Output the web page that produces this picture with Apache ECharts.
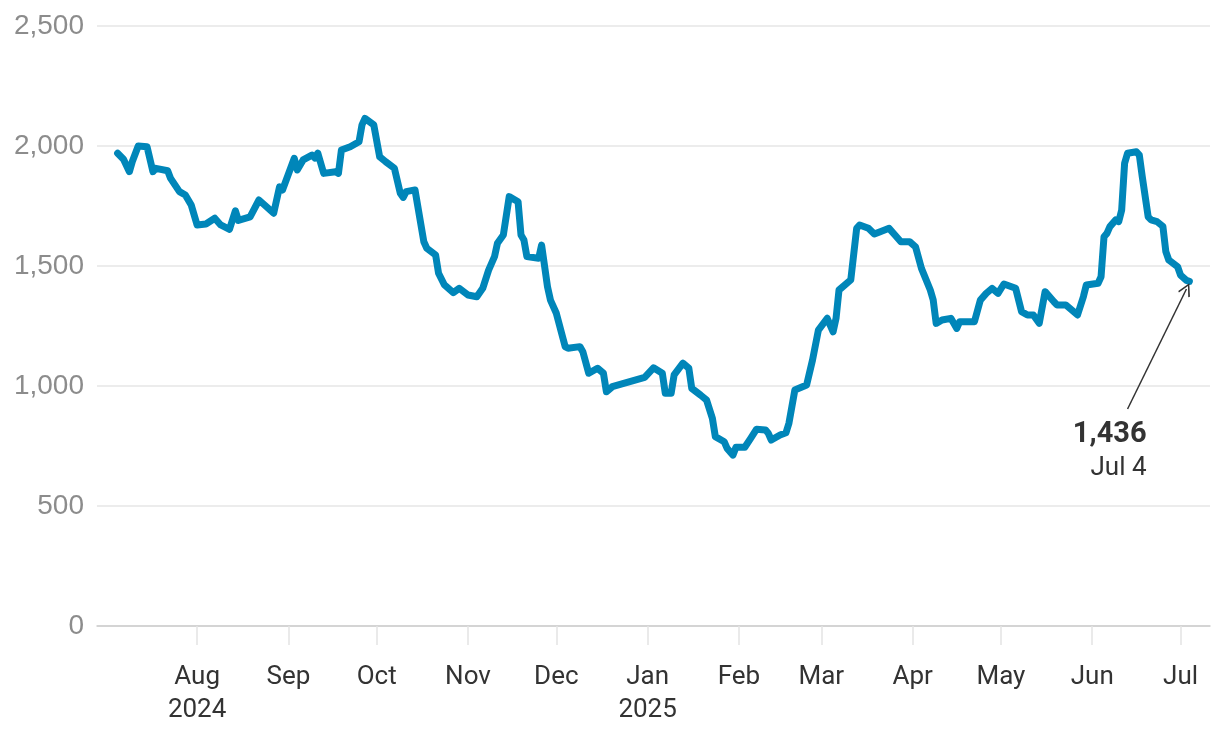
<!DOCTYPE html>
<html>
<head>
<meta charset="utf-8">
<script src="https://cdn.jsdelivr.net/npm/echarts@6/dist/echarts.min.js"></script>
<style>
html,body{margin:0;padding:0;background:#fff;}
#chart{width:1220px;height:734px;}
</style>
</head>
<body>
<div id="chart"></div>
<script>
const dates = [
'2024-07-05','2024-07-07','2024-07-09','2024-07-10','2024-07-12','2024-07-15','2024-07-17','2024-07-18','2024-07-22','2024-07-23',
'2024-07-26','2024-07-28','2024-07-30','2024-08-01','2024-08-04','2024-08-07','2024-08-09','2024-08-12','2024-08-14','2024-08-15',
'2024-08-19','2024-08-22','2024-08-27','2024-08-29','2024-08-30','2024-09-03','2024-09-04','2024-09-06','2024-09-09','2024-09-10',
'2024-09-11','2024-09-13','2024-09-17','2024-09-18','2024-09-19','2024-09-22','2024-09-25','2024-09-26','2024-09-27','2024-09-30',
'2024-10-02','2024-10-04','2024-10-07','2024-10-09','2024-10-10','2024-10-11','2024-10-14','2024-10-17','2024-10-18','2024-10-21',
'2024-10-22','2024-10-24','2024-10-27','2024-10-29','2024-11-01','2024-11-04','2024-11-06','2024-11-08','2024-11-10','2024-11-11',
'2024-11-13','2024-11-15','2024-11-18','2024-11-19','2024-11-20','2024-11-21','2024-11-25','2024-11-26','2024-11-28','2024-11-29',
'2024-12-01','2024-12-04','2024-12-05','2024-12-09','2024-12-10','2024-12-12','2024-12-15','2024-12-17','2024-12-18','2024-12-20',
'2024-12-31','2025-01-03','2025-01-06','2025-01-07','2025-01-09','2025-01-10','2025-01-13','2025-01-15','2025-01-16','2025-01-19',
'2025-01-21','2025-01-23','2025-01-24','2025-01-27','2025-01-28','2025-01-30','2025-01-31','2025-02-03','2025-02-05','2025-02-07',
'2025-02-10','2025-02-11','2025-02-12','2025-02-15','2025-02-17','2025-02-18','2025-02-19','2025-02-20','2025-02-24','2025-02-26',
'2025-02-28','2025-03-03','2025-03-05','2025-03-06','2025-03-07','2025-03-11','2025-03-13','2025-03-14','2025-03-17','2025-03-19',
'2025-03-21','2025-03-24','2025-03-26','2025-03-28','2025-03-31','2025-04-02','2025-04-04','2025-04-07','2025-04-08','2025-04-09',
'2025-04-11','2025-04-14','2025-04-16','2025-04-17','2025-04-22','2025-04-24','2025-04-26','2025-04-28','2025-04-30','2025-05-02',
'2025-05-06','2025-05-08','2025-05-10','2025-05-12','2025-05-14','2025-05-16','2025-05-19','2025-05-20','2025-05-23','2025-05-27',
'2025-05-29','2025-05-30','2025-06-03','2025-06-04','2025-06-05','2025-06-06','2025-06-07','2025-06-09','2025-06-10','2025-06-11',
'2025-06-12','2025-06-13','2025-06-16','2025-06-17','2025-06-18','2025-06-20','2025-06-21','2025-06-23','2025-06-25','2025-06-26',
'2025-06-27','2025-06-30','2025-07-01','2025-07-03','2025-07-04'
];
const values = [
1970,1945,1893,1935,2000,1997,1893,1907,1897,1865,
1810,1796,1754,1671,1675,1699,1671,1653,1730,1690,
1705,1775,1720,1830,1817,1949,1900,1942,1962,1950,
1970,1886,1893,1886,1983,1997,2018,2088,2115,2088,
1955,1935,1907,1803,1786,1810,1817,1601,1574,1546,
1470,1421,1389,1407,1379,1372,1407,1483,1539,1595,
1629,1789,1768,1629,1608,1539,1532,1587,1414,1358,
1303,1164,1157,1164,1143,1053,1074,1053,976,997,
1036,1076,1053,970,970,1046,1095,1074,990,962,
942,865,789,768,740,712,745,745,782,820,
817,803,775,796,805,845,914,983,1004,1108,
1233,1282,1226,1282,1400,1442,1657,1671,1657,1633,
1643,1657,1629,1601,1601,1580,1490,1400,1358,1261,
1275,1282,1240,1268,1268,1358,1386,1407,1386,1425,
1407,1310,1296,1296,1261,1393,1351,1338,1338,1296,
1372,1421,1428,1455,1622,1636,1664,1692,1685,1733,
1928,1970,1976,1962,1872,1705,1692,1685,1665,1560,
1525,1497,1462,1440,1436
];
const monthTicks = ['2024-08-01','2024-09-01','2024-10-01','2024-11-01','2024-12-01','2025-01-01','2025-02-01','2025-03-01','2025-04-01','2025-05-01','2025-06-01','2025-07-01'];
const monthNames = ['Jan','Feb','Mar','Apr','May','Jun','Jul','Aug','Sep','Oct','Nov','Dec'];
const yearLabelTicks = ['2024-08-01','2025-01-01'];
const axisMin = '2024-06-28';
const axisMax = '2025-07-11';
const arrowFrom = ['2025-06-13', 904];
const arrowTo = ['2025-07-03', 1404];

function ts(s){ const p = s.split('-').map(Number); return new Date(p[0], p[1]-1, p[2]).getTime(); }
const tickTs = monthTicks.map(ts);
const yearTs = yearLabelTicks.map(ts);
const seriesData = dates.map((d,i)=>[ts(d), values[i]]);
const DAY = 86400000;

const chart = echarts.init(document.getElementById('chart'), null, {renderer:'canvas'});
const option = {
  animation:false,
  grid:{left:97,right:10,top:26,bottom:108,containLabel:false},
  xAxis:{
    type:'time',
    min:ts(axisMin), max:ts(axisMax),
    minInterval:28*DAY, maxInterval:31*DAY,
    splitNumber:12,
    axisLine:{show:true,lineStyle:{color:'#cccccc',width:1.5}},
    axisTick:{show:true,customValues:tickTs,length:19,lineStyle:{color:'#e3e3e3',width:1.5}},
    splitLine:{show:false},
    axisLabel:{
      margin:35,
      color:'#333333',
      fontFamily:'Roboto, sans-serif',
      fontSize:26,
      lineHeight:33,
      hideOverlap:false,
      formatter:function(v){
        const d = new Date(v);
        const t = new Date(d.getFullYear(), d.getMonth(), 1).getTime();
        if (tickTs.indexOf(t) < 0) return '';
        let s = monthNames[d.getMonth()];
        if (yearTs.indexOf(t) >= 0) s += '\n' + d.getFullYear();
        return s;
      }
    }
  },
  yAxis:{
    type:'value',
    min:0,max:2500,interval:500,
    axisLine:{show:false},
    axisTick:{show:false},
    splitLine:{show:true,lineStyle:{color:'#e6e6e6',width:1.5}},
    axisLabel:{
      margin:13,
      color:'#8c8c8c',
      fontFamily:'"Liberation Sans", Arial, sans-serif',
      fontSize:28,
      formatter:function(v){ return v.toLocaleString('en-US'); }
    }
  },
  series:[{
    type:'line',
    data:seriesData,
    showSymbol:false,
    symbol:'none',
    lineStyle:{color:'#0086b9',width:7,cap:'round',join:'round'},
    z:3,
    markLine:{
      silent:true,
      symbol:['none','path://M0,0 L6,10 L4.8,11 L0,2.6 L-4.8,11 L-6,10 Z'],
      symbolSize:[13,13],
      label:{show:false},
      lineStyle:{color:'#333333',width:1.5,type:'solid'},
      data:[[{coord:[ts(arrowFrom[0]),arrowFrom[1]]},{coord:[ts(arrowTo[0]),arrowTo[1]]}]]
    }
  }]
};
chart.setOption(option);

const lastV = values[values.length-1];
const lastD = new Date(ts(dates[dates.length-1]));
const p = chart.convertToPixel({xAxisIndex:0,yAxisIndex:0},[ts(arrowFrom[0]),arrowFrom[1]]);
chart.setOption({
  graphic:[
    {type:'text',x:p[0]+19,y:p[1]+26,style:{text:lastV.toLocaleString('en-US'),fill:'#333333',font:'bold 29px Roboto, sans-serif',align:'right',verticalAlign:'middle'}},
    {type:'text',x:p[0]+19,y:p[1]+59,style:{text:monthNames[lastD.getMonth()]+' '+lastD.getDate(),fill:'#333333',font:'26px Roboto, sans-serif',align:'right',verticalAlign:'middle'}}
  ]
});
</script>
</body>
</html>
